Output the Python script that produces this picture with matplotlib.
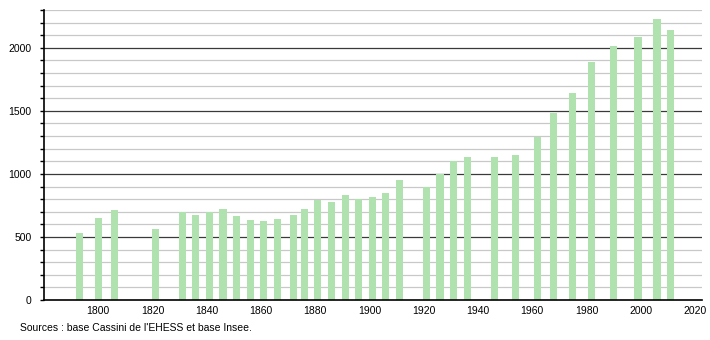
# Population history bar chart (Cassini / Insee)
import matplotlib
matplotlib.use("Agg")
import matplotlib.pyplot as plt
from matplotlib.ticker import MultipleLocator

# Census years and population
years = [1793, 1800, 1806, 1821, 1831, 1836, 1841, 1846, 1851, 1856,
         1861, 1866, 1872, 1876, 1881, 1886, 1891, 1896, 1901, 1906,
         1911, 1921, 1926, 1931, 1936, 1946, 1954, 1962, 1968, 1975,
         1982, 1990, 1999, 2006, 2011]
population = [535, 654, 710, 567, 700, 678, 700, 718, 670, 638,
              630, 646, 678, 718, 795, 779, 829, 803, 819, 845,
              948, 896, 996, 1105, 1131, 1131, 1153, 1293, 1481, 1645,
              1886, 2011, 2083, 2226, 2138]
source_text = "Sources : base Cassini de l'EHESS et base Insee."

plt.rcParams["font.family"] = ["Liberation Sans", "DejaVu Sans"]

fig = plt.figure(figsize=(7.1, 3.4), dpi=100)
ax = fig.add_axes([44 / 710, 40 / 340, 658 / 710, 290 / 340])

# grid lines: light every 100, dark every 500
for v in range(100, 2400, 100):
    if v % 500 == 0:
        ax.axhline(v, color="#3a3a3a", lw=0.9, zorder=1)
    else:
        ax.axhline(v, color="#c8c8c8", lw=0.9, zorder=1)

ax.bar(years, population, width=2.6, color="#b0e2b0", zorder=2)

ax.set_xlim(1780, 2022.6)
ax.set_ylim(0, 2300)
ax.set_xticks(range(1800, 2021, 20))
ax.yaxis.set_major_locator(MultipleLocator(500))
ax.yaxis.set_minor_locator(MultipleLocator(100))

for s in ["top", "right"]:
    ax.spines[s].set_visible(False)
ax.spines["left"].set_linewidth(1.2)
ax.spines["bottom"].set_linewidth(1.2)
ax.tick_params(axis="x", length=0, labelsize=7.5, pad=4)
ax.tick_params(axis="y", which="both", direction="out", length=3, width=1, labelsize=7.5, pad=6)

fig.text(20 / 710, 1 - 328 / 340, source_text, fontsize=7.5, va="center", ha="left")

fig.savefig("out.png", dpi=100)
